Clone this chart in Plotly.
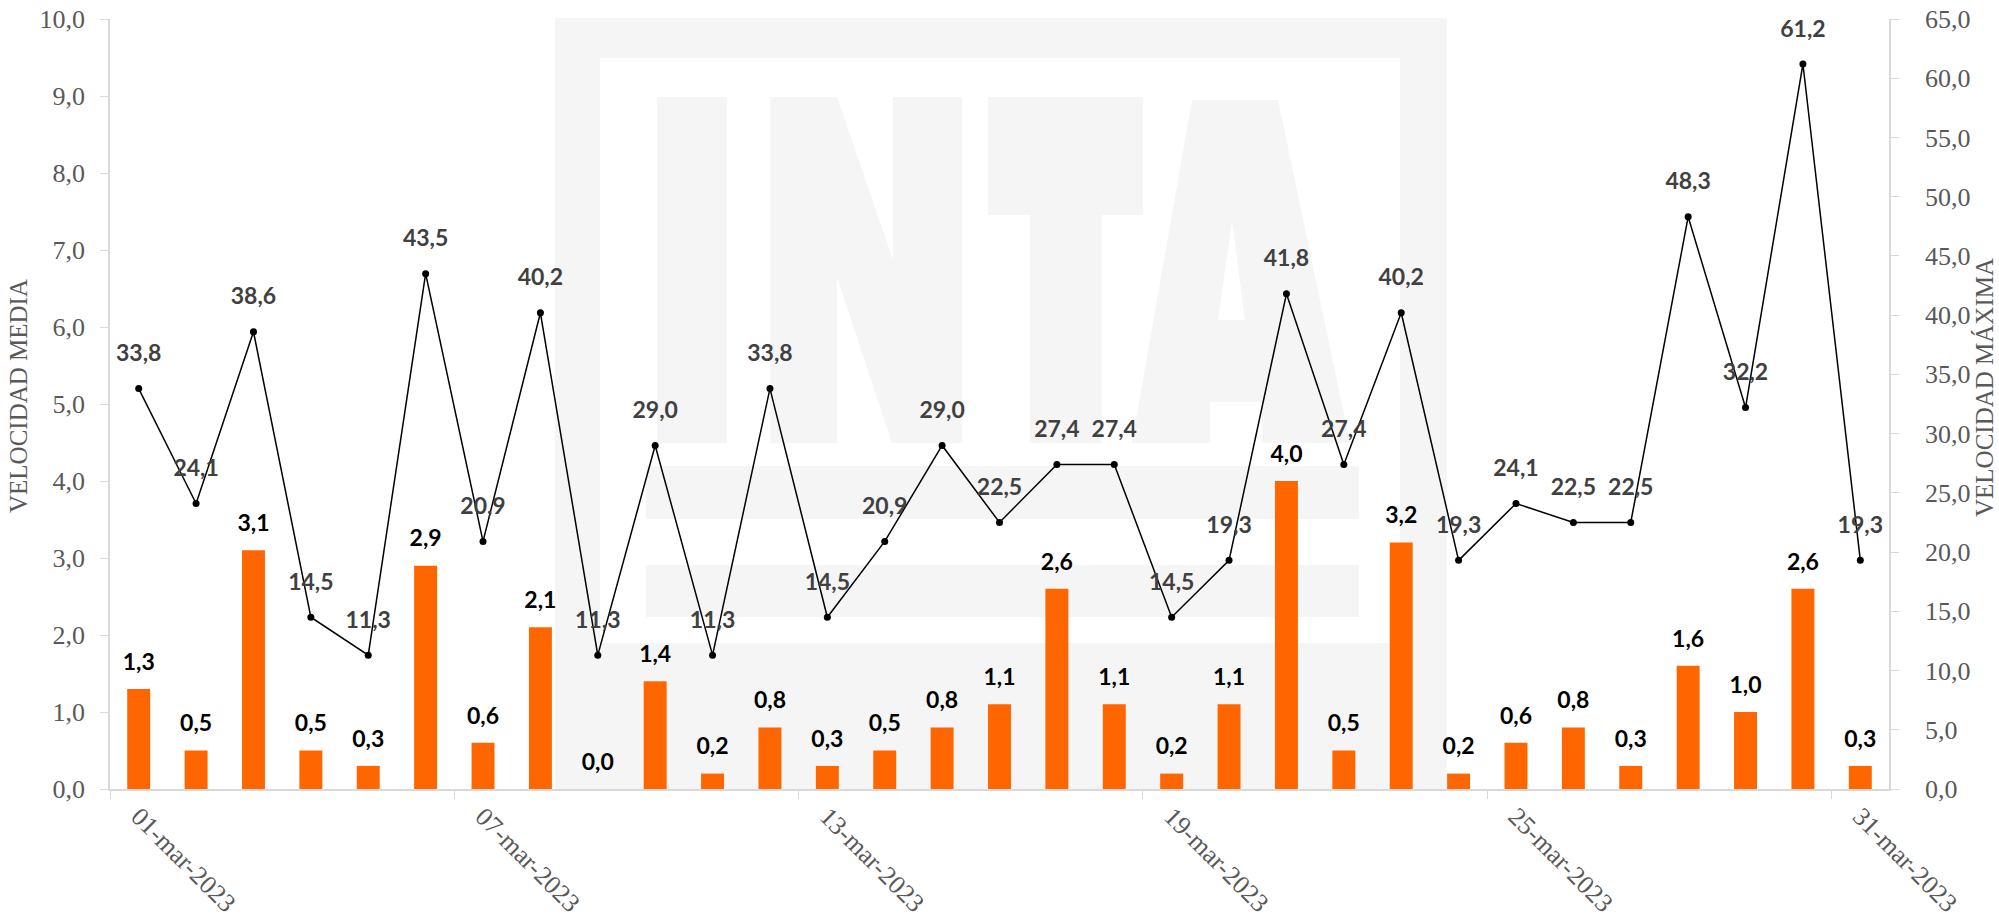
import plotly.graph_objects as go

# ---------------- data ----------------
fechas = [f"{d:02d}-mar-2023" for d in range(1, 32)]
vel_media = [1.3, 0.5, 3.1, 0.5, 0.3, 2.9, 0.6, 2.1, 0.0, 1.4, 0.2, 0.8, 0.3, 0.5, 0.8, 1.1,
             2.6, 1.1, 0.2, 1.1, 4.0, 0.5, 3.2, 0.2, 0.6, 0.8, 0.3, 1.6, 1.0, 2.6, 0.3]
vel_maxima = [33.8, 24.1, 38.6, 14.5, 11.3, 43.5, 20.9, 40.2, 11.3, 29.0, 11.3, 33.8, 14.5, 20.9,
              29.0, 22.5, 27.4, 27.4, 14.5, 19.3, 41.8, 27.4, 40.2, 19.3, 24.1, 22.5, 22.5, 48.3,
              32.2, 61.2, 19.3]
titulo_izq = "VELOCIDAD MEDIA"
titulo_der = "VELOCIDAD MÁXIMA"

# ---------------- layout geometry ----------------
W, H = 1999, 922
ML, MR, MT, MB = 110, 110, 19, 133
PW, PH = W - ML - MR, H - MT - MB

ORANGE = "#FF6600"
GRAY_TXT = "#595959"
AXIS_C = "#D9D9D9"
WM = "#F5F5F5"


def pp(px, py):
    return (px - ML) / PW, (H - MB - py) / PH


def rect(x0, y0, x1, y1, color):
    a = pp(x0, y0)
    b = pp(x1, y1)
    return dict(type="rect", xref="paper", yref="paper", x0=a[0], y0=b[1], x1=b[0], y1=a[1],
                fillcolor=color, line=dict(width=0), layer="below")


def poly(pts, color):
    cs = [pp(x, y) for x, y in pts]
    path = "M " + " L ".join(f"{x:.5f},{y:.5f}" for x, y in cs) + " Z"
    return dict(type="path", xref="paper", yref="paper", path=path,
                fillcolor=color, line=dict(width=0), layer="below")


# faint INTA watermark (background logo)
shapes = [
    rect(555, 18, 1447, 789, WM),
    rect(600, 58, 1400, 643, "white"),
    rect(657, 97, 727, 443, WM),
    poly([(770, 97), (837, 97), (893, 260), (893, 97), (962, 97), (962, 443), (892, 443),
          (837, 277), (837, 443), (770, 443)], WM),
    rect(988, 97, 1143, 215, WM),
    rect(1030, 215, 1102, 443, WM),
    poly([(1132, 443), (1192, 100), (1278, 100), (1350, 443), (1262, 443), (1262, 402),
          (1210, 402), (1210, 443)], WM),
    poly([(1232, 220), (1218, 320), (1245, 320)], "white"),
    rect(646, 466, 1359, 519, WM),
    rect(646, 565, 1359, 617, WM),
]

fig = go.Figure()

fig.add_trace(go.Bar(
    x=fechas, y=vel_media, name=titulo_izq, marker=dict(color=ORANGE, line=dict(width=0)),
    yaxis="y", hoverinfo="skip"))

fig.add_trace(go.Scatter(
    x=fechas, y=vel_media, mode="markers+text", yaxis="y",
    text=[f"{v:.1f}".replace(".", ",") for v in vel_media],
    textposition="top center",
    marker=dict(size=20, opacity=0),
    textfont=dict(family="Lato", size=23, color="#000000", weight=700),
    cliponaxis=False, hoverinfo="skip", showlegend=False))

fig.add_trace(go.Scatter(
    x=fechas, y=vel_maxima, name=titulo_der, mode="lines+markers", yaxis="y2",
    line=dict(color="#000000", width=1.5), marker=dict(color="#000000", size=7),
    cliponaxis=False, hoverinfo="skip"))

fig.add_trace(go.Scatter(
    x=fechas, y=vel_maxima, mode="markers+text", yaxis="y2",
    text=[f"{v:.1f}".replace(".", ",") for v in vel_maxima],
    textposition="top center",
    marker=dict(size=33, opacity=0),
    textfont=dict(family="Lato", size=23, color="#404040", weight=700),
    cliponaxis=False, hoverinfo="skip", showlegend=False))

tickfont = dict(family="Liberation Serif", size=26, color=GRAY_TXT)
titlefont = dict(family="Liberation Serif", size=25, color=GRAY_TXT)

fig.update_layout(
    width=W, height=H,
    margin=dict(l=ML, r=MR, t=MT, b=MB, autoexpand=False),
    paper_bgcolor="white", plot_bgcolor="rgba(0,0,0,0)",
    separators=",.",
    showlegend=False,
    bargap=0.6,
    shapes=shapes,
    xaxis=dict(
        type="category", tickmode="linear", tick0=0, dtick=6,
        tickson="boundaries", ticks="outside", ticklen=8, tickcolor=AXIS_C,
        showline=True, linecolor=AXIS_C, linewidth=1.5, showgrid=False, zeroline=False,
        tickangle=45, tickfont=tickfont, range=[-0.5, 30.5], automargin=False),
    yaxis=dict(
        range=[0, 10], dtick=1, tickformat=".1f", ticks="outside", ticklen=8, tickcolor=AXIS_C,
        showline=True, linecolor=AXIS_C, linewidth=1.5, showgrid=False, zeroline=False,
        tickfont=tickfont, ticklabelstandoff=10, automargin=False),
    yaxis2=dict(
        range=[0, 65], dtick=5, tickformat=".1f", ticks="outside", ticklen=8, tickcolor=AXIS_C,
        showline=True, linecolor=AXIS_C, linewidth=1.5, showgrid=False, zeroline=False,
        overlaying="y", side="right", tickfont=tickfont, ticklabelstandoff=21, automargin=False),
    annotations=[
        dict(text=titulo_izq, xref="paper", yref="paper", x=pp(18, 0)[0], y=pp(0, 396)[1],
             xanchor="center", yanchor="middle", textangle=-90, showarrow=False,
             font=titlefont),
        dict(text=titulo_der, xref="paper", yref="paper", x=pp(1984, 0)[0], y=pp(0, 388)[1],
             xanchor="center", yanchor="middle", textangle=-90, showarrow=False,
             font=titlefont),
    ],
)

fig.write_html("out.html", config={"displayModeBar": False},
               post_script="document.body.style.margin='0';")
